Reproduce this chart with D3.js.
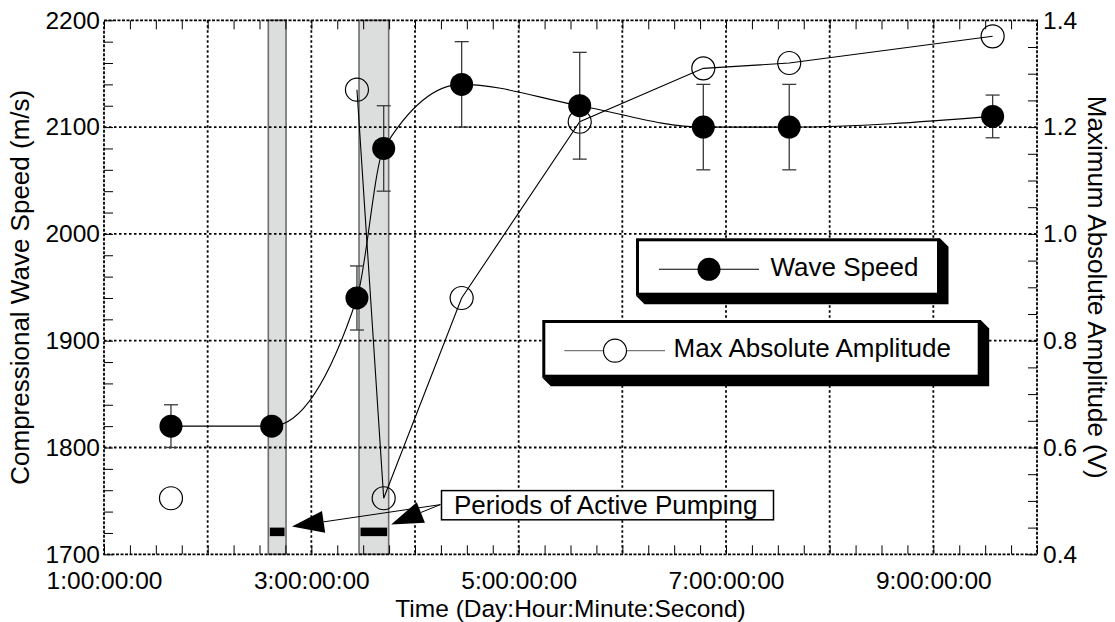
<!DOCTYPE html>
<html>
<head>
<meta charset="utf-8">
<script src="https://cdn.jsdelivr.net/npm/d3@7"></script>
<style>
  html, body { margin: 0; padding: 0; background: #fff; }
  svg { display: block; font-family: "Liberation Sans", Arial, Helvetica, sans-serif; }
</style>
</head>
<body>
<svg id="chart" width="1115" height="622"></svg>
<script>
// ---------------- data ----------------
// time in days (Day axis), wave speed (m/s) with error half-widths
const speedTime   = [1.646, 2.618, 3.440, 3.698, 4.450, 5.589, 6.781, 7.610, 9.572];
const speedValue  = [1820, 1820, 1940, 2080, 2140, 2120, 2100, 2100, 2110];
const speedError  = [20, 0, 30, 40, 40, 50, 40, 40, 20];
// maximum absolute amplitude (V)
const ampTime     = [1.646, 3.440, 3.698, 4.450, 5.589, 6.781, 7.610, 9.572];
const ampValue    = [0.505, 1.27, 0.505, 0.88, 1.21, 1.31, 1.32, 1.37];
const ampConnected = [false, true, true, true, true, true, true, true];
// periods of active pumping (days)
const pumpStart   = [2.585, 3.460];
const pumpEnd     = [2.756, 3.746];
// ticks
const xTickValues = [1, 3, 5, 7, 9];
const xTickLabels = ["1:00:00:00", "3:00:00:00", "5:00:00:00", "7:00:00:00", "9:00:00:00"];
const yLeftTicks  = [1700, 1800, 1900, 2000, 2100, 2200];
const yRightTicks = [0.4, 0.6, 0.8, 1.0, 1.2, 1.4];
const yRightLabels = ["0.4", "0.6", "0.8", "1.0", "1.2", "1.4"];
const legendLabels = ["Wave Speed", "Max Absolute Amplitude"];
const annotationText = "Periods of Active Pumping";

// ---------------- layout ----------------
const svg = d3.select("#chart");
const L = 104, R = 1037, T = 20.3, B = 554.3;
const FS = 26;      // titles, legend, annotation
const TFS = 24.5;   // tick labels

const x  = d3.scaleLinear().domain([1, 10]).range([L, R]);
const yL = d3.scaleLinear().domain([1700, 2200]).range([B, T]);
const yR = d3.scaleLinear().domain([0.4, 1.4]).range([B, T]);

// pumping bands
const bands = pumpStart.map((s, i) => ({ s, e: pumpEnd[i] }));
svg.append("g").selectAll("rect").data(bands).join("rect")
  .attr("x", d => x(d.s)).attr("y", T)
  .attr("width", d => x(d.e) - x(d.s)).attr("height", B - T)
  .attr("fill", "#dcdedd").attr("stroke", "#6e6e6e").attr("stroke-width", 1.6);

// grid
const grid = svg.append("g").attr("stroke", "#000").attr("stroke-width", 1.8).attr("stroke-dasharray", "2.5,2.5");
grid.selectAll("line.h").data(d3.range(1800, 2200, 100)).join("line")
  .attr("x1", L).attr("x2", R).attr("y1", d => yL(d)).attr("y2", d => yL(d));
grid.selectAll("line.v").data(d3.range(2, 10, 1)).join("line")
  .attr("y1", T).attr("y2", B).attr("x1", d => x(d)).attr("x2", d => x(d));

// black bars in pumping bands
svg.append("g").selectAll("rect").data(bands).join("rect")
  .attr("x", d => x(d.s) + 1.5).attr("y", yL(1725))
  .attr("width", d => x(d.e) - x(d.s) - 3).attr("height", yL(1717) - yL(1725))
  .attr("fill", "#000");

// axes (ticks point inward)
function styleAxis(g) {
  g.select(".domain").remove();
  g.selectAll(".tick line").attr("stroke", "#000").attr("stroke-width", 1);
  g.selectAll(".tick text").attr("font-size", TFS).attr("fill", "#000")
    .attr("font-family", "Liberation Sans, Arial, Helvetica, sans-serif");
}
const minorX = d3.range(1, 10.001, 0.25);
svg.append("g").attr("transform", `translate(0,${B})`)
  .call(d3.axisBottom(x).tickValues(minorX).tickSize(-9).tickFormat(""))
  .call(styleAxis);
svg.append("g").attr("transform", `translate(0,${T})`)
  .call(d3.axisTop(x).tickValues(minorX).tickSize(-9).tickFormat(""))
  .call(styleAxis);
svg.append("g").attr("transform", `translate(0,${B})`)
  .call(d3.axisBottom(x).tickValues(xTickValues).tickSize(0).tickPadding(0)
    .tickFormat((d, i) => xTickLabels[i]))
  .call(styleAxis)
  .selectAll(".tick text").attr("dy", null).attr("y", 589 - B).attr("dominant-baseline", "alphabetic");

svg.append("g").attr("transform", `translate(${L},0)`)
  .call(d3.axisLeft(yL).tickValues(d3.range(1700, 2200.1, 20)).tickSize(-9).tickFormat(""))
  .call(styleAxis);
svg.append("g").attr("transform", `translate(${L},0)`)
  .call(d3.axisLeft(yL).tickValues(yLeftTicks).tickSize(0).tickPadding(4).tickFormat(d3.format("d")))
  .call(styleAxis);
svg.append("g").attr("transform", `translate(${R},0)`)
  .call(d3.axisRight(yR).tickValues(d3.range(0.4, 1.4001, 0.05)).tickSize(-9).tickFormat(""))
  .call(styleAxis);
svg.append("g").attr("transform", `translate(${R},0)`)
  .call(d3.axisRight(yR).tickValues(yRightTicks).tickSize(0).tickPadding(6)
    .tickFormat((d, i) => yRightLabels[i]))
  .call(styleAxis);

// frame
svg.append("rect").attr("x", L).attr("y", T).attr("width", R - L).attr("height", B - T)
  .attr("fill", "none").attr("stroke", "#000").attr("stroke-width", 1.8).attr("stroke-dasharray", "3,1.5");

// axis titles
svg.append("text").attr("transform", `translate(29,${(T + B) / 2}) rotate(-90)`)
  .attr("text-anchor", "middle").attr("font-size", FS).text("Compressional Wave Speed (m/s)");
svg.append("text").attr("transform", `translate(1088,${(T + B) / 2}) rotate(90)`)
  .attr("text-anchor", "middle").attr("font-size", FS).text("Maximum Absolute Amplitude (V)");
svg.append("text").attr("x", (L + R) / 2).attr("y", 616.5)
  .attr("text-anchor", "middle").attr("font-size", 24.5).text("Time (Day:Hour:Minute:Second)");

// amplitude series (straight segments)
const ampData = ampTime.map((t, i) => ({ t, v: ampValue[i], c: ampConnected[i] }));
svg.append("path").datum(ampData.filter(d => d.c))
  .attr("fill", "none").attr("stroke", "#000").attr("stroke-width", 1.1)
  .attr("d", d3.line().x(d => x(d.t)).y(d => yR(d.v)));
svg.append("g").selectAll("circle").data(ampData).join("circle")
  .attr("cx", d => x(d.t)).attr("cy", d => yR(d.v)).attr("r", 11.5)
  .attr("fill", "none").attr("stroke", "#000").attr("stroke-width", 1.2);

// wave speed series (smooth)
const spData = speedTime.map((t, i) => ({ t, v: speedValue[i], e: speedError[i] }));
svg.append("path").datum(spData)
  .attr("fill", "none").attr("stroke", "#000").attr("stroke-width", 1.1)
  .attr("d", d3.line().curve(d3.curveMonotoneX).x(d => x(d.t)).y(d => yL(d.v)));
const eb = svg.append("g").attr("stroke", "#3a3a3a").attr("stroke-width", 1.3);
spData.filter(d => d.e > 0).forEach(d => {
  const cx = x(d.t);
  eb.append("line").attr("x1", cx).attr("x2", cx).attr("y1", yL(d.v - d.e)).attr("y2", yL(d.v + d.e));
  eb.append("line").attr("x1", cx - 7).attr("x2", cx + 7).attr("y1", yL(d.v + d.e)).attr("y2", yL(d.v + d.e));
  eb.append("line").attr("x1", cx - 7).attr("x2", cx + 7).attr("y1", yL(d.v - d.e)).attr("y2", yL(d.v - d.e));
});
svg.append("g").selectAll("circle").data(spData).join("circle")
  .attr("cx", d => x(d.t)).attr("cy", d => yL(d.v)).attr("r", 11.5).attr("fill", "#000");

// annotation
const annFrom = [x(4.245), yL(1746.5)];
function arrow(tip) {
  const dx = annFrom[0] - tip[0], dy = annFrom[1] - tip[1];
  const len = Math.hypot(dx, dy), ux = dx / len, uy = dy / len;
  const hl = 32, hw = 11;
  const bx = tip[0] + ux * hl, by = tip[1] + uy * hl;
  svg.append("line").attr("x1", annFrom[0]).attr("y1", annFrom[1]).attr("x2", bx).attr("y2", by)
    .attr("stroke", "#000").attr("stroke-width", 1);
  svg.append("path").attr("fill", "#000")
    .attr("d", `M${tip[0]},${tip[1]}L${bx - uy * hw},${by + ux * hw}L${bx + uy * hw},${by - ux * hw}Z`);
}
arrow([x(2.813), yL(1726)]);
arrow([x(3.770), yL(1728)]);
svg.append("rect").attr("x", 441.5).attr("y", 490.6).attr("width", 332).attr("height", 29.2)
  .attr("fill", "#fff").attr("stroke", "#000").attr("stroke-width", 1.5);
svg.append("text").attr("x", 454).attr("y", 513.5).attr("font-size", FS).text(annotationText);

// legend boxes with 3D shadow
function legendBox(x1, y1, x2, y2, d) {
  svg.append("path").attr("fill", "#000")
    .attr("d", `M${x2},${y1}L${x2 + d},${y1 + d}L${x2 + d},${y2 + d}L${x1 + d},${y2 + d}L${x1},${y2}Z`);
  svg.append("rect").attr("x", x1 + 1.5).attr("y", y1 + 1.5)
    .attr("width", x2 - x1 - 3).attr("height", y2 - y1 - 3)
    .attr("fill", "#fff").attr("stroke", "#000").attr("stroke-width", 3);
}
legendBox(636, 238.3, 940, 295.7, 8.5);
svg.append("line").attr("x1", 659).attr("x2", 759).attr("y1", 269.3).attr("y2", 269.3)
  .attr("stroke", "#000").attr("stroke-width", 1.1);
svg.append("circle").attr("cx", 709).attr("cy", 269.3).attr("r", 11.5).attr("fill", "#000");
svg.append("text").attr("x", 770.5).attr("y", 275.5).attr("font-size", FS).text(legendLabels[0]);

legendBox(542.3, 320, 980.7, 377.7, 8.5);
svg.append("line").attr("x1", 564.3).attr("x2", 665).attr("y1", 350.7).attr("y2", 350.7)
  .attr("stroke", "#777").attr("stroke-width", 1.3);
svg.append("circle").attr("cx", 615).attr("cy", 350.7).attr("r", 11.5)
  .attr("fill", "#fff").attr("stroke", "#000").attr("stroke-width", 1.2);
svg.append("text").attr("x", 673.5).attr("y", 357).attr("font-size", FS).text(legendLabels[1]);
</script>
</body>
</html>
